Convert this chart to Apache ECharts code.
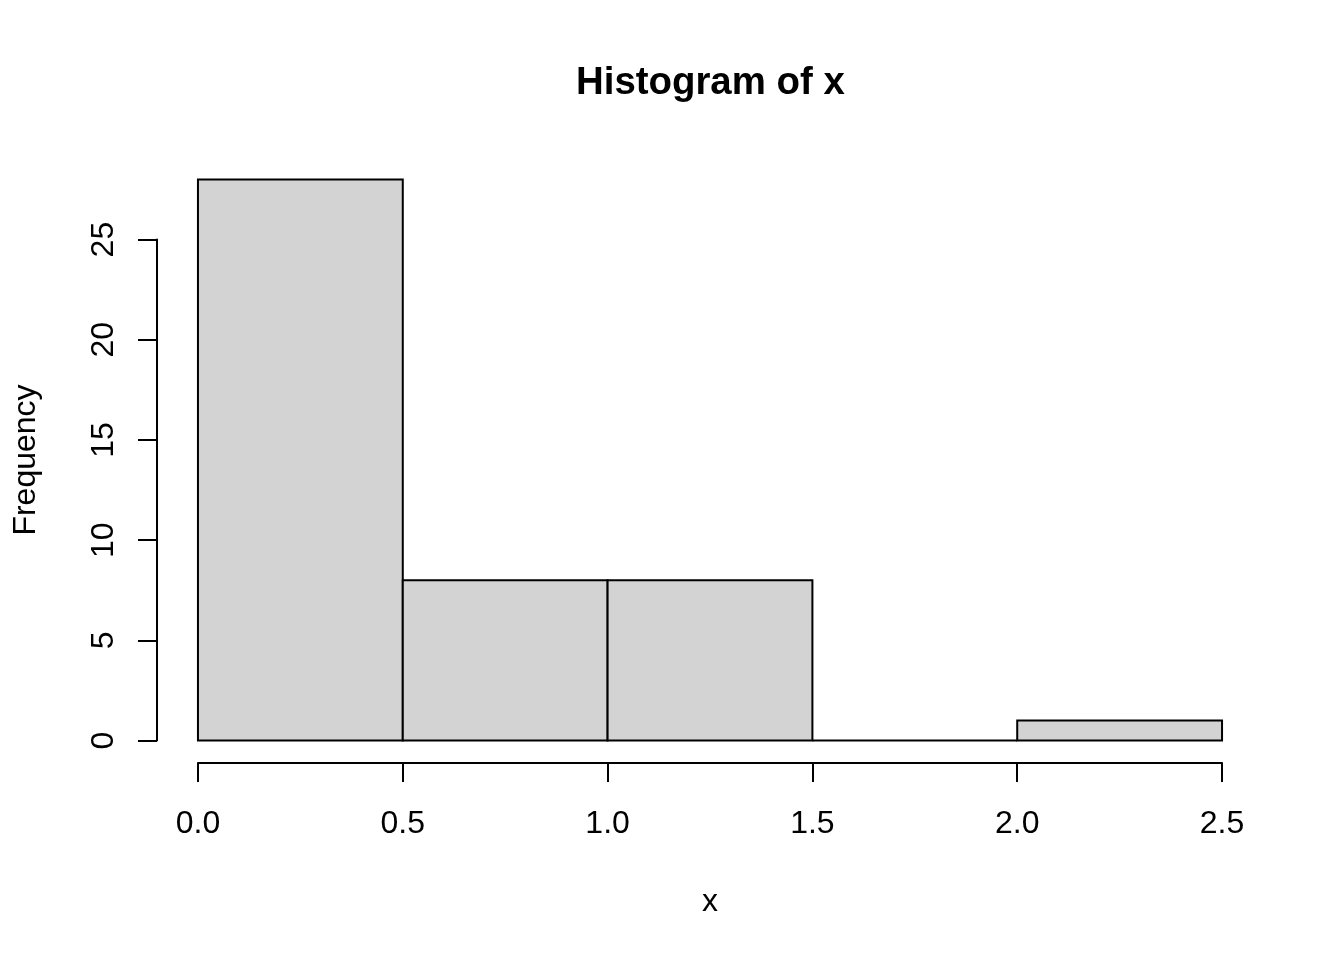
<!DOCTYPE html>
<html>
<head>
<meta charset="utf-8">
<script src="https://cdn.jsdelivr.net/npm/echarts@6/dist/echarts.min.js"></script>
<style>
html,body{margin:0;padding:0;background:#fff;}
#chart{width:1344px;height:960px;}
</style>
</head>
<body>
<div id="chart"></div>
<script>
const titleText = 'Histogram of x';
const xLabel = 'x';
const yLabel = 'Frequency';
const breaks = [0, 0.5, 1.0, 1.5, 2.0, 2.5];
const counts = [28, 8, 8, 0, 1];
const xTicks = [0, 0.5, 1.0, 1.5, 2.0, 2.5];
const yTicks = [0, 5, 10, 15, 20, 25];

const FONT = '"Liberation Sans", Arial, sans-serif';
const binData = counts.map((c, i) => [breaks[i], breaks[i + 1], c]);

const chart = echarts.init(document.getElementById('chart'), null, {renderer: 'canvas'});
const hiddenAxisBits = {
  axisLine: {show: false}, axisTick: {show: false},
  axisLabel: {show: false}, splitLine: {show: false}
};
const axisLineStyle = {lineStyle: {color: '#000', width: 2}};
chart.setOption({
  animation: false,
  backgroundColor: '#fff',
  textStyle: {fontFamily: FONT},
  title: {
    text: titleText, left: 571, top: 59,
    textStyle: {fontFamily: FONT, fontSize: 38.4, fontWeight: 'bold', color: '#000'}
  },
  grid: [
    {left: 157, top: 157, width: 1106, height: 606},
    {left: 198, top: 157, width: 1024, height: 606},
    {left: 157, top: 239.6, width: 1106, height: 501}
  ],
  xAxis: [
    Object.assign({gridIndex: 0, type: 'value', min: -0.1, max: 2.6,
      name: xLabel, nameLocation: 'middle', nameGap: 123,
      nameTextStyle: {fontFamily: FONT, fontSize: 32, color: '#000'}}, hiddenAxisBits),
    {gridIndex: 1, type: 'value', position: 'bottom',
      min: xTicks[0], max: xTicks[xTicks.length - 1], interval: xTicks[1] - xTicks[0],
      axisLine: Object.assign({show: true, onZero: false}, axisLineStyle),
      axisTick: Object.assign({show: true, inside: false, length: 19}, axisLineStyle),
      axisLabel: {show: true, fontFamily: FONT, fontSize: 32, color: '#000', margin: 45,
        showMinLabel: true, showMaxLabel: true,
        formatter: v => v.toFixed(1)},
      splitLine: {show: false}},
    {gridIndex: 2, type: 'value', show: false, min: 0, max: 1}
  ],
  yAxis: [
    Object.assign({gridIndex: 0, type: 'value', min: -1.12, max: 29.12,
      name: yLabel, nameLocation: 'middle', nameRotate: 90, nameGap: 115,
      nameTextStyle: {fontFamily: FONT, fontSize: 32, color: '#000'}}, hiddenAxisBits),
    {gridIndex: 1, type: 'value', show: false, min: 0, max: 1},
    {gridIndex: 2, type: 'value', position: 'left',
      min: yTicks[0], max: yTicks[yTicks.length - 1], interval: yTicks[1] - yTicks[0],
      axisLine: Object.assign({show: true, onZero: false}, axisLineStyle),
      axisTick: Object.assign({show: true, inside: false, length: 19}, axisLineStyle),
      axisLabel: {show: true, fontFamily: FONT, fontSize: 32, color: '#000', margin: 37,
        rotate: 90, showMinLabel: true, showMaxLabel: true},
      splitLine: {show: false}}
  ],
  series: [{
    type: 'custom',
    xAxisIndex: 0, yAxisIndex: 0,
    data: binData,
    renderItem: function (params, api) {
      const p0 = api.coord([api.value(0), api.value(2)]);
      const p1 = api.coord([api.value(1), 0]);
      return {
        type: 'rect',
        shape: {x: p0[0], y: p0[1], width: p1[0] - p0[0], height: p1[1] - p0[1]},
        style: {fill: '#D3D3D3', stroke: '#000', lineWidth: 2}
      };
    }
  }]
});
</script>
</body>
</html>
